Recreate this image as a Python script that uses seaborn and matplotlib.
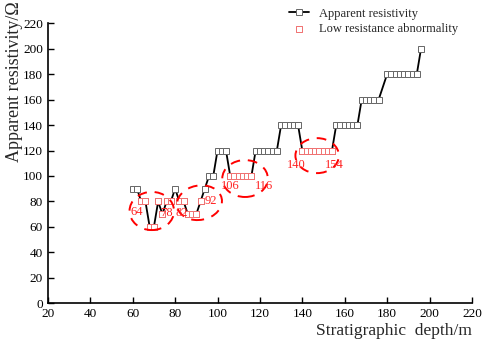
import numpy as np
import pandas as pd
import matplotlib
matplotlib.use("Agg")
import matplotlib.pyplot as plt
from matplotlib.patches import Ellipse
import seaborn as sns

# -- 数据 --
depth = [60, 62, 64, 66, 68, 70, 72, 74, 76, 78, 80, 82, 84, 86, 88, 90, 92, 94, 96, 98,
         100, 102, 104, 106, 108, 110, 112, 114, 116, 118, 120, 122, 124, 126, 128,
         130, 132, 134, 136, 138, 140, 142, 144, 146, 148, 150, 152, 154,
         156, 158, 160, 162, 164, 166, 168, 170, 172, 174, 176,
         180, 182, 184, 186, 188, 190, 192, 194, 196]
resistivity = [90, 90, 80, 80, 60, 60, 80, 70, 80, 80, 90, 80, 80, 70, 70, 70, 80, 90, 100, 100,
               120, 120, 120, 100, 100, 100, 100, 100, 100, 120, 120, 120, 120, 120, 120,
               140, 140, 140, 140, 140, 120, 120, 120, 120, 120, 120, 120, 120,
               140, 140, 140, 140, 140, 140, 160, 160, 160, 160, 160,
               180, 180, 180, 180, 180, 180, 180, 180, 200]
abnormal_depth = [64, 66, 68, 70, 72, 74, 76, 78, 82, 84, 86, 88, 90, 92,
                  106, 108, 110, 112, 114, 116,
                  140, 142, 144, 146, 148, 150, 152, 154]

label_text = ["64", "78", "82", "92", "106", "116", "140", "154"]
label_x = [62, 76, 83, 97, 106, 122, 137, 155]
label_y = [72, 71, 71, 80, 92, 92, 109, 109]

# 椭圆: 中心x, 中心y, 宽, 高, 角度
ell_x = [69, 91.5, 113, 147]
ell_y = [72.5, 79, 98, 116]
ell_w = [21, 21, 21.5, 20.5]
ell_h = [30, 27.5, 29, 27.5]
ell_ang = [0, -10, 0, 0]

df = pd.DataFrame({"depth": depth, "res": resistivity})
df_ab = df[df["depth"].isin(abnormal_depth)]

sns.set_style("ticks")
plt.rcParams["font.family"] = ["Liberation Serif", "DejaVu Serif"]
plt.rcParams["xtick.direction"] = "in"
plt.rcParams["ytick.direction"] = "in"

fig = plt.figure(figsize=(4.84, 3.43), dpi=100)
ax = fig.add_axes([0.099, 0.116, 0.876, 0.816])

sns.lineplot(data=df, x="depth", y="res", ax=ax, color="black", linewidth=1.3,
             marker="s", markersize=4, markerfacecolor="white",
             markeredgecolor="#666666", markeredgewidth=0.7,
             label="Apparent resistivity")
sns.scatterplot(data=df_ab, x="depth", y="res", ax=ax, marker="s", s=16,
                facecolor="white", edgecolor="#f07070", linewidth=0.7,
                label="Low resistance abnormality", zorder=3)

for cx, cy, w, h, a in zip(ell_x, ell_y, ell_w, ell_h, ell_ang):
    ax.add_patch(Ellipse((cx, cy), w, h, angle=a, fill=False, edgecolor="red",
                         linestyle=(0, (5, 4)), linewidth=1.4, zorder=4))

for t, x, y in zip(label_text, label_x, label_y):
    ax.text(x, y, t, color="#ff2020", fontsize=9, ha="center", va="center", zorder=5)

ax.set_xlim(20, 220)
ax.set_ylim(0, 220)
ax.set_xticks(np.arange(20, 221, 20))
ax.set_yticks(np.arange(0, 221, 20))
ax.tick_params(labelsize=9.5, length=4, width=1, colors="black")
sns.despine(ax=ax)
for s in ["left", "bottom"]:
    ax.spines[s].set_linewidth(1.2)
    ax.spines[s].set_color("black")

ax.set_xlabel("Stratigraphic  depth/m", fontsize=12.5)
ax.xaxis.set_label_coords(1.0, -0.072)
ax.xaxis.label.set_ha("right")
ax.set_ylabel("Apparent resistivity/Ω", fontsize=13)
ax.yaxis.set_label_coords(-0.058, 1.08)
ax.yaxis.label.set_va("bottom")
ax.yaxis.label.set_ha("right")

leg = ax.legend(loc="upper right", bbox_to_anchor=(0.98, 1.074), frameon=False,
                fontsize=9, handlelength=1.6, handletextpad=0.8, labelspacing=0.3,
                borderaxespad=0)

fig.savefig("out.png", dpi=100)
